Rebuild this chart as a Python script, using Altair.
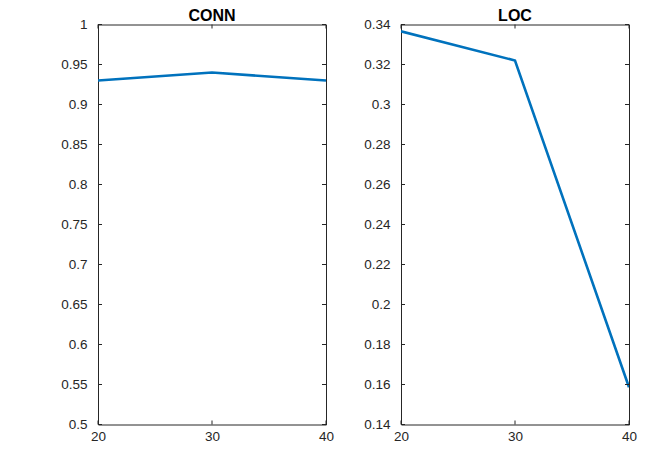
import altair as alt
import pandas as pd

x_vals = [20, 30, 40]
conn_vals = [0.930, 0.940, 0.930]
loc_vals = [0.3366, 0.3220, 0.1586]

conn_yticks = [0.5, 0.55, 0.6, 0.65, 0.7, 0.75, 0.8, 0.85, 0.9, 0.95, 1.0]
loc_yticks = [0.14, 0.16, 0.18, 0.2, 0.22, 0.24, 0.26, 0.28, 0.3, 0.32, 0.34]
xticks = [20, 30, 40]

W, H = 228, 400
TL = 4
LINE_COLOR = "#0072BD"
AX_COLOR = "#262626"
FONT = "Liberation Sans"
LFS = 13.5
EXT = 45


def panel(title, yvals, yticks, ydomain):
    df = pd.DataFrame({"x": x_vals, "y": yvals})
    ydf = pd.DataFrame({"t": yticks})
    xdf = pd.DataFrame({"t": xticks})
    xscale = alt.Scale(domain=[20, 40], nice=False, zero=False)
    yscale = alt.Scale(domain=ydomain, nice=False, zero=False)
    xaxis = alt.Axis(
        values=xticks, title=None, format="~g", tickSize=0, domain=False,
        labelFlush=False, labelOverlap=False, labelPadding=5, labelFont=FONT,
        labelFontSize=LFS, labelColor=AX_COLOR, grid=False,
        minExtent=17, maxExtent=17)
    yaxis = alt.Axis(
        values=yticks, title=None, format="~g", tickSize=0, domain=False,
        labelOverlap=False, labelPadding=11, labelFont=FONT, labelFontSize=LFS,
        labelColor=AX_COLOR, grid=False, minExtent=EXT, maxExtent=EXT)

    line = alt.Chart(df).mark_line(color=LINE_COLOR, strokeWidth=2.6, clip=True).encode(
        x=alt.X("x:Q", scale=xscale, axis=xaxis),
        y=alt.Y("y:Q", scale=yscale, axis=yaxis),
    )
    yl = alt.Chart(ydf).mark_rule(color=AX_COLOR, strokeWidth=1).encode(
        y=alt.Y("t:Q", scale=yscale, axis=yaxis), x=alt.value(0), x2=alt.value(TL))
    yr = alt.Chart(ydf).mark_rule(color=AX_COLOR, strokeWidth=1).encode(
        y=alt.Y("t:Q", scale=yscale, axis=yaxis), x=alt.value(W - TL), x2=alt.value(W))
    xb = alt.Chart(xdf).mark_rule(color=AX_COLOR, strokeWidth=1).encode(
        x=alt.X("t:Q", scale=xscale, axis=xaxis), y=alt.value(H - TL), y2=alt.value(H))
    xt = alt.Chart(xdf).mark_rule(color=AX_COLOR, strokeWidth=1).encode(
        x=alt.X("t:Q", scale=xscale, axis=xaxis), y=alt.value(0), y2=alt.value(TL))
    return alt.layer(line, yl, yr, xb, xt).properties(
        width=W, height=H,
        title=alt.TitleParams(title, font=FONT, fontSize=16, fontWeight="bold",
                              color="#000000", offset=-6.25))


left = panel("CONN", conn_vals, conn_yticks, [0.5, 1.0])
right = panel("LOC", loc_vals, loc_yticks, [0.14, 0.34])

chart = alt.hconcat(left, right, spacing=20).properties(
    padding={"left": 44, "top": -1.5, "right": 0, "bottom": 0},
    background="white",
).configure_view(stroke=AX_COLOR, strokeWidth=1)

chart.save("out.html", embed_options={"renderer": "svg", "actions": False})
